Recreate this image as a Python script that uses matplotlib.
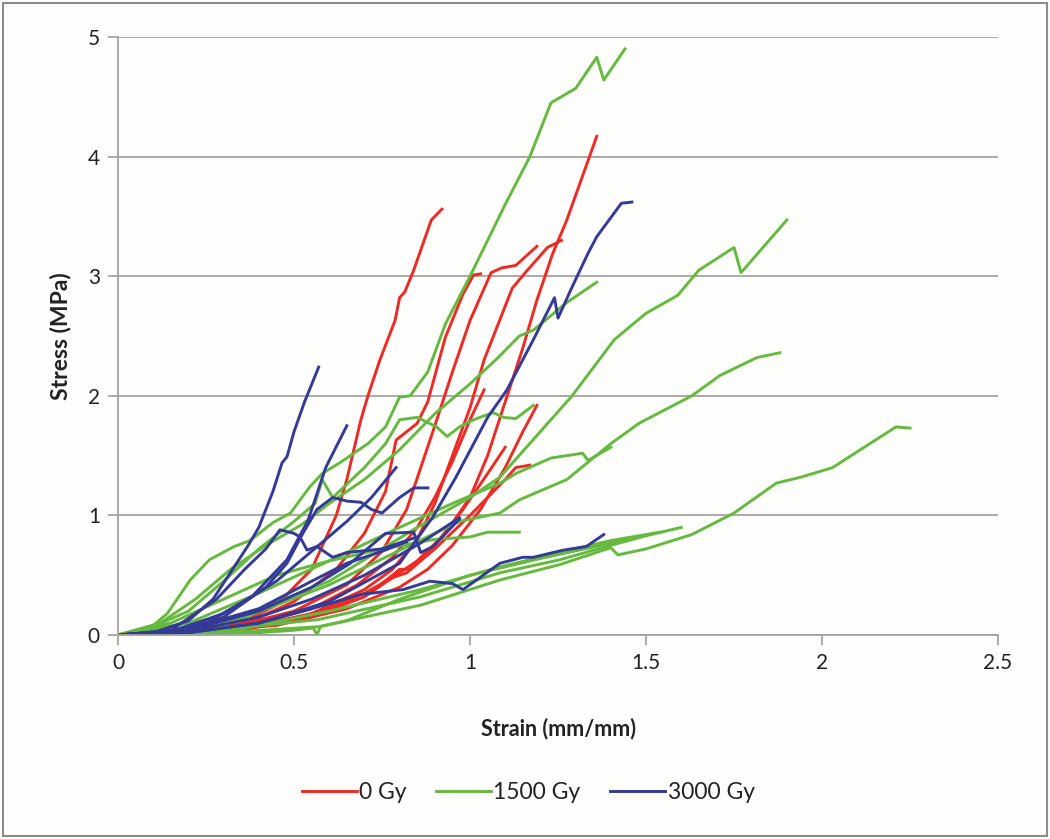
import matplotlib
matplotlib.use("Agg")
import matplotlib.pyplot as plt
from matplotlib.patches import Rectangle

plt.rcParams['font.family'] = ['Lato', 'DejaVu Sans']

# stress-strain curves, (strain, stress) pairs
gy0_curves = [
    [(0, 0), (0.2, 0.02), (0.35, 0.1), (0.45, 0.25), (0.55, 0.55), (0.62, 1.0), (0.65, 1.3),
     (0.69, 1.8), (0.71, 2.0), (0.744, 2.3), (0.787, 2.63), (0.80, 2.82), (0.815, 2.87),
     (0.84, 3.05), (0.89, 3.47), (0.92, 3.56)],
    [(0, 0), (0.35, 0.04), (0.55, 0.15), (0.7, 0.32), (0.8, 0.52), (0.85, 0.62), (0.93, 0.85),
     (1.0, 1.15), (1.05, 1.5), (1.1, 1.95), (1.15, 2.4), (1.19, 2.8), (1.235, 3.19),
     (1.275, 3.47), (1.36, 4.17)],
    [(0, 0), (0.35, 0.05), (0.55, 0.18), (0.7, 0.38), (0.78, 0.55), (0.85, 0.8), (0.9, 1.1),
     (0.95, 1.5), (1.0, 1.9), (1.04, 2.3), (1.08, 2.6), (1.12, 2.9),
     (1.16, 3.04), (1.22, 3.24), (1.26, 3.30)],
    [(0, 0), (0.3, 0.05), (0.5, 0.2), (0.65, 0.42), (0.75, 0.7), (0.82, 1.05), (0.86, 1.4),
     (0.9, 1.75), (0.95, 2.2), (1.0, 2.63), (1.06, 3.03), (1.09, 3.07), (1.13, 3.09),
     (1.19, 3.25)],
    [(0, 0), (0.35, 0.08), (0.5, 0.28), (0.62, 0.55), (0.7, 0.85), (0.76, 1.2), (0.79, 1.63),
     (0.85, 1.77), (0.88, 1.95), (0.93, 2.49), (0.98, 2.85), (1.01, 3.01), (1.03, 3.02)],
    [(0, 0), (0.45, 0.08), (0.65, 0.22), (0.8, 0.4), (0.88, 0.55), (0.95, 0.75), (1.03, 1.05),
     (1.1, 1.4), (1.15, 1.7), (1.19, 1.92)],
    [(0, 0), (0.5, 0.13), (0.7, 0.32), (0.78, 0.5), (0.8, 0.55), (0.83, 0.55), (0.9, 0.75),
     (0.98, 1.05), (1.05, 1.35), (1.10, 1.57)],
    [(0, 0), (0.5, 0.12), (0.7, 0.35), (0.78, 0.48), (0.82, 0.52), (0.9, 0.72), (1.0, 1.0),
     (1.1, 1.3), (1.13, 1.40), (1.17, 1.42)],
    [(0, 0), (0.35, 0.06), (0.55, 0.22), (0.68, 0.42), (0.78, 0.65), (0.85, 0.9), (0.9, 1.15),
     (0.95, 1.45), (1.0, 1.8), (1.04, 2.05)],
]

gy1500_curves = [
    [(0, 0), (0.1, 0.08), (0.14, 0.18), (0.205, 0.46), (0.26, 0.63), (0.33, 0.74),
     (0.375, 0.79), (0.44, 0.94), (0.49, 1.02), (0.545, 1.24), (0.58, 1.35), (0.63, 1.44),
     (0.71, 1.6), (0.76, 1.74), (0.80, 1.99), (0.83, 2.0), (0.88, 2.2), (0.93, 2.6),
     (1.0, 3.0), (1.1, 3.6), (1.17, 4.0), (1.23, 4.45), (1.30, 4.57), (1.36, 4.83),
     (1.38, 4.64), (1.44, 4.9)],
    [(0, 0), (0.3, 0.1), (0.6, 0.45), (0.85, 0.9), (1.0, 1.15), (1.085, 1.32), (1.29, 2.0),
     (1.41, 2.47), (1.50, 2.69), (1.59, 2.84), (1.65, 3.05), (1.75, 3.24), (1.77, 3.03),
     (1.90, 3.47)],
    [(0, 0), (0.3, 0.08), (0.6, 0.42), (0.85, 0.78), (0.97, 0.95), (1.085, 1.02),
     (1.14, 1.13), (1.275, 1.30), (1.40, 1.6), (1.48, 1.77), (1.63, 2.0), (1.71, 2.17),
     (1.815, 2.32), (1.88, 2.36)],
    [(0, 0), (0.2, 0.1), (0.4, 0.35), (0.6, 0.62), (0.8, 0.9), (0.95, 1.1), (1.085, 1.27),
     (1.13, 1.35), (1.23, 1.48), (1.32, 1.52), (1.335, 1.46), (1.40, 1.57)],
    [(0, 0), (0.3, 0.02), (0.57, 0.07), (0.86, 0.25), (1.085, 0.46), (1.256, 0.59),
     (1.40, 0.73), (1.42, 0.67), (1.5, 0.72), (1.63, 0.84), (1.75, 1.02), (1.87, 1.27),
     (1.94, 1.32), (2.03, 1.40), (2.21, 1.74), (2.25, 1.73)],
    [(0, 0), (0.25, 0.03), (0.57, 0.13), (0.86, 0.32), (1.085, 0.52), (1.256, 0.63),
     (1.40, 0.75), (1.5, 0.83), (1.60, 0.90)],
    [(0, 0), (0.35, 0.05), (0.6, 0.2), (0.86, 0.38), (1.085, 0.57), (1.256, 0.69),
     (1.40, 0.79), (1.54, 0.86)],
    [(0, 0), (0.12, 0.1), (0.22, 0.3), (0.32, 0.55), (0.42, 0.75), (0.52, 0.92), (0.6, 1.1),
     (0.7, 1.3), (0.8, 1.55), (0.9, 1.85), (1.0, 2.1), (1.08, 2.32), (1.14, 2.5),
     (1.18, 2.55), (1.275, 2.78), (1.36, 2.95)],
    [(0, 0), (0.15, 0.1), (0.3, 0.3), (0.45, 0.5), (0.6, 0.62), (0.75, 0.72), (0.9, 0.8),
     (1.0, 0.82), (1.05, 0.86), (1.14, 0.86)],
    [(0, 0), (0.1, 0.07), (0.2, 0.2), (0.3, 0.45), (0.4, 0.72), (0.5, 0.95), (0.56, 1.1),
     (0.58, 1.3), (0.61, 1.15), (0.7, 1.4), (0.76, 1.6), (0.8, 1.8), (0.85, 1.82),
     (0.905, 1.74), (0.935, 1.66), (0.97, 1.74), (1.01, 1.80), (1.065, 1.86),
     (1.095, 1.82), (1.13, 1.81), (1.18, 1.92)],
    [(0, 0), (0.2, 0.01), (0.4, 0.02), (0.5, 0.04), (0.555, 0.06), (0.565, 0.0),
     (0.575, 0.07), (0.65, 0.12), (0.8, 0.3), (1.0, 0.5), (1.2, 0.64), (1.45, 0.8)],
]

gy3000_curves = [
    [(0, 0), (0.1, 0.02), (0.2, 0.12), (0.27, 0.3), (0.33, 0.57), (0.37, 0.75), (0.40, 0.90),
     (0.44, 1.2), (0.466, 1.44), (0.48, 1.49), (0.5, 1.7), (0.53, 1.95), (0.57, 2.24)],
    [(0, 0), (0.15, 0.03), (0.25, 0.1), (0.38, 0.32), (0.48, 0.63), (0.54, 0.96),
     (0.59, 1.40), (0.65, 1.75)],
    [(0, 0), (0.15, 0.02), (0.3, 0.15), (0.42, 0.4), (0.48, 0.6), (0.525, 0.85),
     (0.565, 1.05), (0.61, 1.15), (0.65, 1.12), (0.69, 1.11), (0.72, 1.05), (0.75, 1.02),
     (0.8, 1.15), (0.84, 1.23), (0.88, 1.23)],
    [(0, 0), (0.2, 0.02), (0.4, 0.1), (0.6, 0.28), (0.8, 0.6), (0.895, 0.99), (0.96, 1.32),
     (1.05, 1.82), (1.105, 2.05), (1.18, 2.47), (1.24, 2.82), (1.25, 2.65), (1.29, 2.91),
     (1.335, 3.19), (1.36, 3.33), (1.43, 3.61), (1.46, 3.62)],
    [(0, 0), (0.2, 0.02), (0.4, 0.1), (0.55, 0.22), (0.69, 0.34), (0.81, 0.38),
     (0.886, 0.45), (0.95, 0.43), (0.98, 0.38), (1.085, 0.60), (1.15, 0.65), (1.18, 0.65),
     (1.265, 0.71), (1.33, 0.74), (1.38, 0.84)],
    [(0, 0), (0.2, 0.03), (0.4, 0.15), (0.55, 0.3), (0.7, 0.5), (0.86, 0.77), (0.97, 0.98)],
    [(0, 0), (0.2, 0.04), (0.4, 0.2), (0.55, 0.4), (0.66, 0.6), (0.76, 0.85), (0.84, 0.86),
     (0.86, 0.69), (0.895, 0.74), (0.97, 0.97)],
    [(0, 0), (0.15, 0.03), (0.3, 0.18), (0.45, 0.45), (0.55, 0.7), (0.65, 0.95),
     (0.72, 1.15), (0.79, 1.40)],
    [(0, 0), (0.15, 0.04), (0.28, 0.3), (0.36, 0.55), (0.42, 0.72), (0.46, 0.88),
     (0.50, 0.85), (0.517, 0.82), (0.537, 0.71), (0.565, 0.74), (0.61, 0.65),
     (0.65, 0.69), (0.75, 0.72), (0.85, 0.82)],
    [(0, 0), (0.2, 0.05), (0.4, 0.22), (0.55, 0.45), (0.65, 0.6), (0.75, 0.7), (0.82, 0.78)],
]

series_names = ['0 Gy', '1500 Gy', '3000 Gy']
series_colors = ['#ee2a24', '#66b93f', '#333a98']

x_ticks = [0, 0.5, 1, 1.5, 2, 2.5]
x_labels = ['0', '0.5', '1', '1.5', '2', '2.5']
y_ticks = [0, 1, 2, 3, 4, 5]

fig = plt.figure(figsize=(10.5, 8.39), dpi=100, facecolor='#fefefc')
ax = fig.add_axes([0.1124, 0.2431, 0.8381, 0.7128])
ax.set_facecolor('#fefefc')

for curves, name, color in zip([gy0_curves, gy1500_curves, gy3000_curves], series_names, series_colors):
    for k, curve in enumerate(curves):
        xs = [p[0] for p in curve]
        ys = [p[1] for p in curve]
        ax.plot(xs, ys, color=color, lw=2.1, solid_joinstyle='round',
                label=name if k == 0 else None)

ax.set_xlim(0, 2.5)
ax.set_ylim(0, 5)
ax.set_xticks(x_ticks)
ax.set_xticklabels(x_labels)
ax.set_yticks(y_ticks)

grid_c = '#a6a3a0'
ax.grid(axis='y', color=grid_c, lw=1.3)
ax.set_axisbelow(True)
for side in ['top', 'right']:
    ax.spines[side].set_visible(False)
for side in ['left', 'bottom']:
    ax.spines[side].set_color(grid_c)
    ax.spines[side].set_linewidth(1.3)
ax.tick_params(axis='both', direction='out', length=7, width=1.3, color=grid_c,
               labelsize=15, labelcolor='#222222', pad=6)

ax.set_xlabel('Strain (mm/mm)', fontsize=15.5, fontweight='bold', color='#222222', labelpad=32)
ax.set_ylabel('Stress (MPa)', fontsize=16.5, fontweight='bold', color='#222222', labelpad=12)

fig.legend(loc='center', bbox_to_anchor=(0.503, 0.055), ncol=3, frameon=False,
           fontsize=16.5, handlelength=2.4, handletextpad=0.1, columnspacing=1.3,
           labelcolor='#222222')

# grey frame round the whole chart
fig.patches.append(Rectangle((0.003, 0.004), 0.994, 0.992, transform=fig.transFigure,
                             fill=False, edgecolor='#8c8c8c', lw=1.5))

fig.savefig('out.png', dpi=100, facecolor=fig.get_facecolor())
